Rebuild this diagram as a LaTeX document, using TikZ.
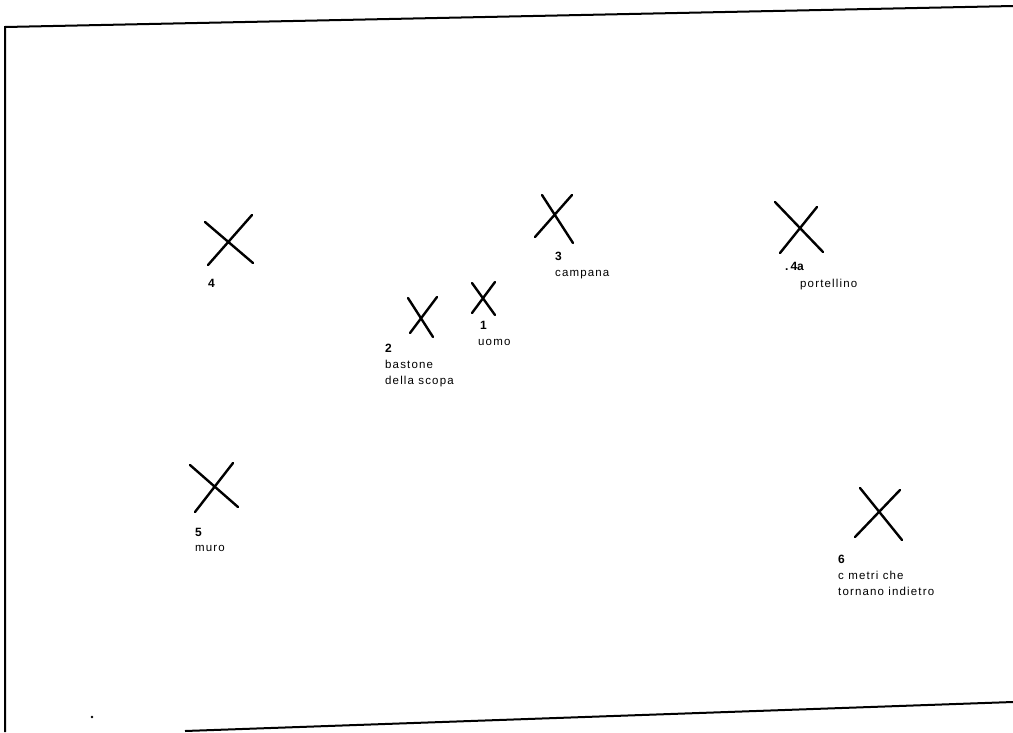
\documentclass[tikz,border=0pt]{standalone}
\usepackage{fontspec}
\setmainfont{Liberation Sans}
\begin{document}
\begin{tikzpicture}[x=1pt,y=-1pt,
  xmark/.style={line width=2.4pt, line cap=round},
  frameline/.style={line width=2pt},
  num/.style={font=\fontsize{12}{12}\selectfont\bfseries, anchor=base west, inner sep=0},
  lbl/.style={font=\fontsize{11.5}{12}\selectfont\addfontfeature{LetterSpace=10}, anchor=base west, inner sep=0}]
\useasboundingbox (0,0) rectangle (1013,732);
% frame of the scanned sheet
\coordinate (tr) at (1013,6);
\coordinate (tl) at (5,27);
\coordinate (bl) at (5,732);
\coordinate (bs) at (185,731);
\coordinate (be) at (1013,702);
\draw[frameline] (tr) -- (tl) -- (bl);
\draw[frameline] (bs) -- (be);
\fill (92,717) circle (1.3);
% X marks
\draw[xmark] (205,222) -- (253,263) (208,265) -- (252,215);   % 4
\draw[xmark] (190,465) -- (238,507) (195,512) -- (233,463);   % 5
\draw[xmark] (408,298) -- (433,337) (410,333) -- (437,297);   % 2
\draw[xmark] (472,283) -- (495,315) (472,313) -- (495,282);   % 1
\draw[xmark] (542,195) -- (573,243) (535,237) -- (572,195);   % 3
\draw[xmark] (775,202) -- (823,252) (780,253) -- (817,207);   % 4a
\draw[xmark] (860,488) -- (902,540) (855,537) -- (900,490);   % 6
% labels
\node[num] (n4) at (208,287) {4};
\node[num] (n5) at (195,536) {5};
\node[lbl] (t5) at (195,551) {muro};
\node[num] (n2) at (385,352) {2};
\node[lbl] (t2a) at (385,368) {bastone};
\node[lbl] (t2b) at (385,384) {della scopa};
\node[num] (n1) at (480,329) {1};
\node[lbl] (t1) at (478,345) {uomo};
\node[num] (n3) at (555,260) {3};
\node[lbl] (t3) at (555,276) {campana};
\node[num] (n4a) at (785,270) {.\,4a};
\node[lbl] (t4a) at (800,287) {portellino};
\node[num] (n6) at (838,563) {6};
\node[lbl] (t6a) at (838,579) {c metri che};
\node[lbl] (t6b) at (838,595) {tornano indietro};
\end{tikzpicture}
\end{document}
